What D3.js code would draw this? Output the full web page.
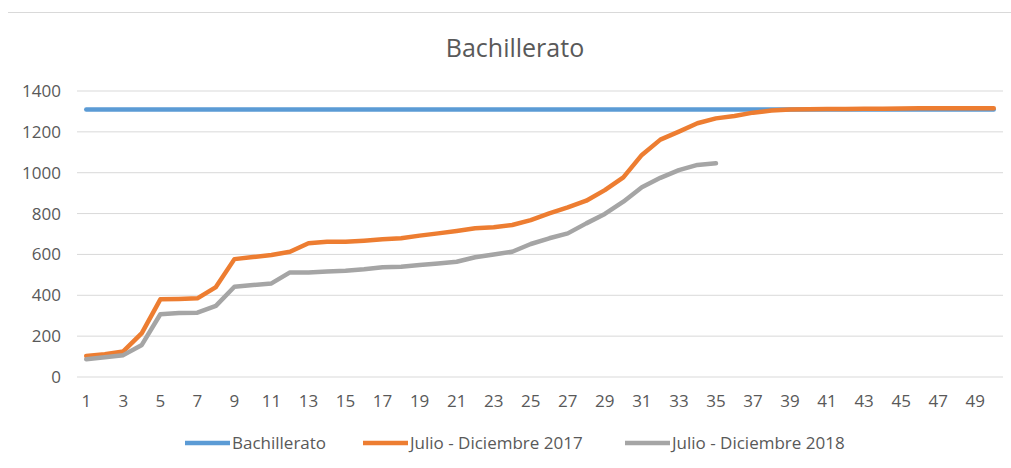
<!DOCTYPE html>
<html>
<head>
<meta charset="utf-8">
<script src="https://cdn.jsdelivr.net/npm/d3@7/dist/d3.min.js"></script>
<style>
body { margin: 0; background: #fff; }
text { font-family: "Open Sans", "DejaVu Sans", sans-serif; fill: #595959; }
</style>
</head>
<body>
<div id="chart"></div>
<script>
// categorias 1..50
const categories = d3.range(1, 51);
const bachillerato = categories.map(() => 1310);
const julio2017 = [103, 112, 125, 215, 380, 382, 385, 440, 577, 587,
                   597, 613, 655, 662, 662, 667, 674, 679, 692, 703,
                   715, 728, 733, 744, 768, 801, 830, 863, 915, 977,
                   1087, 1162, 1201, 1242, 1266, 1278, 1294, 1304, 1310, 1311,
                   1312, 1312, 1313, 1313, 1314, 1315, 1315, 1316, 1316, 1316];
const julio2018 = [87, 97, 107, 157, 307, 313, 315, 348, 442, 450,
                   458, 512, 512, 517, 520, 527, 537, 540, 548, 556,
                   564, 586, 600, 613, 651, 679, 703, 752, 798, 858,
                   929, 975, 1013, 1038, 1046];
const yTicks = [0, 200, 400, 600, 800, 1000, 1200, 1400];
const seriesNames = ["Bachillerato", "Julio - Diciembre 2017", "Julio - Diciembre 2018"];
const seriesColors = ["#5b9bd5", "#ed7d31", "#a5a5a5"];

const width = 1011, height = 468;
const margin = {left: 77, right: 8, top: 91, bottom: 91};

const svg = d3.select('#chart').append('svg')
    .attr('width', width).attr('height', height);

// borde superior del grafico
svg.append('line')
    .attr('x1', 8).attr('x2', width).attr('y1', 12.5).attr('y2', 12.5)
    .attr('stroke', '#d9d9d9');

const x = d3.scaleBand()
    .domain(categories)
    .range([margin.left, width - margin.right]);
const y = d3.scaleLinear()
    .domain([0, 1400])
    .range([height - margin.bottom, margin.top]);

// gridlines
svg.append('g')
    .selectAll('line')
    .data(yTicks)
    .enter().append('line')
    .attr('x1', margin.left).attr('x2', width - margin.right)
    .attr('y1', d => y(d)).attr('y2', d => y(d))
    .attr('stroke', '#d9d9d9').attr('stroke-width', 1);

// y labels
const yAxis = svg.append('g')
    .attr('transform', 'translate(' + margin.left + ',0)')
    .call(d3.axisLeft(y).tickValues(yTicks).tickFormat(d3.format('d')).tickSize(0).tickPadding(16));
yAxis.select('.domain').remove();
yAxis.selectAll('text').style('font-size', '17px').attr('fill', '#595959');

// x labels
const xAxis = svg.append('g')
    .attr('transform', 'translate(0,' + (height - margin.bottom) + ')')
    .call(d3.axisBottom(x).tickValues(categories.filter(d => d % 2 == 1)).tickSize(0).tickPadding(18));
xAxis.select('.domain').remove();
xAxis.selectAll('text').style('font-size', '17px').attr('fill', '#595959');

const line = d3.line()
    .x((d, i) => x(categories[i]) + x.bandwidth() / 2)
    .y(d => y(d));

const allSeries = [bachillerato, julio2017, julio2018];
allSeries.forEach(function(s, k) {
    svg.append('path')
        .datum(s)
        .attr('d', line)
        .attr('fill', 'none')
        .attr('stroke', seriesColors[k])
        .attr('stroke-width', 4.5)
        .attr('stroke-linejoin', 'round')
        .attr('stroke-linecap', 'round');
});

// title
svg.append('text')
    .attr('x', 515).attr('y', 57)
    .attr('text-anchor', 'middle')
    .style('font-size', '25px')
    .text('Bachillerato');

// legend
const legendX = [185, 363, 625];
const legend = svg.append('g');
seriesNames.forEach(function(name, k) {
    legend.append('line')
        .attr('x1', legendX[k]).attr('x2', legendX[k] + 45)
        .attr('y1', 443).attr('y2', 443)
        .attr('stroke', seriesColors[k]).attr('stroke-width', 4.5);
    legend.append('text')
        .attr('x', legendX[k] + 47).attr('y', 449)
        .style('font-size', '17px')
        .text(name);
});
</script>
</body>
</html>
